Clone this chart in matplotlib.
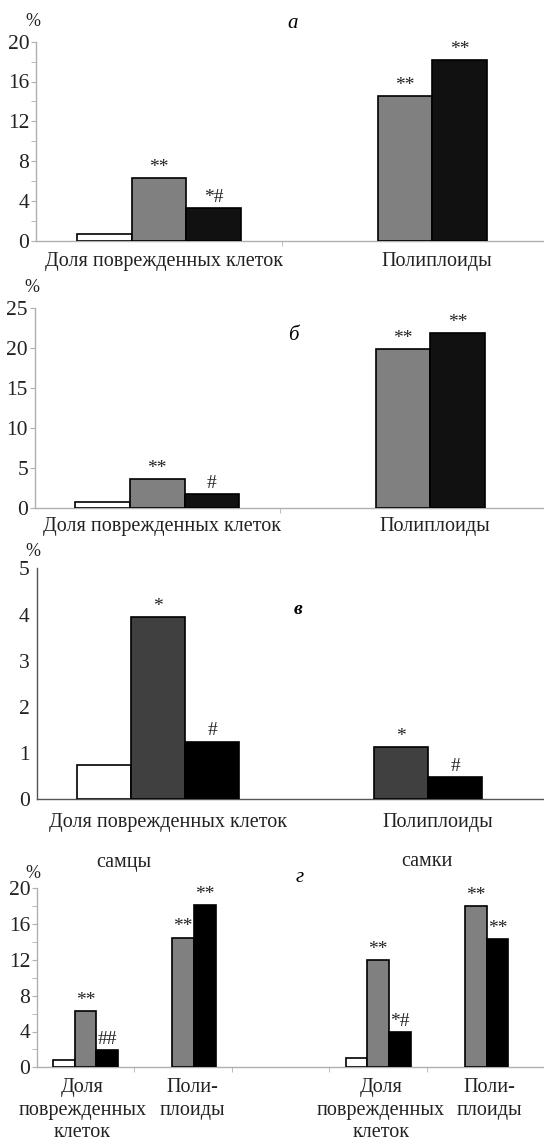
import matplotlib
matplotlib.use('Agg')
import matplotlib.pyplot as plt
from matplotlib.ticker import MultipleLocator

plt.rcParams['font.family'] = ['Liberation Serif', 'DejaVu Serif']

# panel a
a_cats = ['Доля поврежденных клеток', 'Полиплоиды']
a_white = [0.7, 0]
a_gray = [6.3, 14.5]
a_black = [3.3, 18.2]
a_gray_marks = ['**', '**']
a_black_marks = ['*#', '**']

# panel b
b_cats = ['Доля поврежденных клеток', 'Полиплоиды']
b_white = [0.8, 0]
b_gray = [3.7, 19.9]
b_black = [1.8, 21.9]
b_gray_marks = ['**', '**']
b_black_marks = ['#', '**']

# panel c
c_cats = ['Доля поврежденных клеток', 'Полиплоиды']
c_white = [0.75, 0]
c_gray = [3.94, 1.14]
c_black = [1.25, 0.49]
c_gray_marks = ['*', '*']
c_black_marks = ['#', '#']

# panel d (males | empty | females)
d_cats = ['Доля\nповрежденных\nклеток', 'Поли-\nплоиды', '',
          'Доля\nповрежденных\nклеток', 'Поли-\nплоиды']
d_white = [0.8, 0, 0, 1.0, 0]
d_gray = [6.3, 14.5, 0, 12.0, 18.0]
d_black = [1.9, 18.1, 0, 3.9, 14.3]
d_gray_marks = ['**', '**', '', '**', '**']
d_black_marks = ['##', '**', '', '*#', '**']

W, H = 544, 1145
fig = plt.figure(figsize=(W / 100, H / 100), dpi=100)


def px_axes(left, top, bottom, right=W):
    return fig.add_axes([left / W, 1 - bottom / H, (right - left) / W, (bottom - top) / H])


def draw_bars(ax, white, gray, black, gray_marks, black_marks, colors, w=1 / 4.5):
    for k, (vals, col) in enumerate(zip([white, gray, black], colors)):
        xs = [i + (k - 1) * w for i in range(len(vals)) if vals[i] > 0]
        hs = [v for v in vals if v > 0]
        ax.bar(xs, hs, w, color=col, edgecolor='black', linewidth=1.2, zorder=3)
    for k, marks, vals in ((1, gray_marks, gray), (2, black_marks, black)):
        for i, (m, v) in enumerate(zip(marks, vals)):
            if m:
                ax.annotate(m, (i + (k - 1) * w, v), xytext=(0, 1.5),
                            textcoords='offset points', ha='center', va='bottom',
                            fontsize=14, color='#222222')


def style(ax, spine_col, ymax, ystep, yminor, xlim, bounds, tick_len=3.5):
    for s in ('top', 'right'):
        ax.spines[s].set_visible(False)
    for s in ('left', 'bottom'):
        ax.spines[s].set_color(spine_col)
        ax.spines[s].set_linewidth(1.0)
    ax.set_xlim(*xlim)
    ax.set_ylim(0, ymax)
    ax.yaxis.set_major_locator(MultipleLocator(ystep))
    if yminor:
        ax.yaxis.set_minor_locator(MultipleLocator(yminor))
    ax.tick_params(axis='y', which='major', length=tick_len, color=spine_col,
                   labelsize=15.5, pad=1.2 if tick_len else 5, labelcolor='#222222')
    ax.tick_params(axis='y', which='minor', length=tick_len, color=spine_col)
    ax.set_xticks(bounds, minor=True)
    ax.tick_params(axis='x', which='minor', length=tick_len, color=spine_col)
    ax.set_xticks([])


def cat_labels(ax, xs, labels, dy, fs=14.5):
    for x, lab in zip(xs, labels):
        ax.annotate(lab, (x, 0), xytext=(0, -dy), textcoords='offset points',
                    ha='center', va='top', fontsize=fs, color='#222222',
                    linespacing=1.25, annotation_clip=False)


# a
ax = px_axes(36, 41.7, 240.7)
draw_bars(ax, a_white, a_gray, a_black, a_gray_marks, a_black_marks,
          ['white', '#808080', '#111111'])
style(ax, '#b0b0b0', 20, 4, 2, (-0.5, 1.565), [0.5])
cat_labels(ax, [0.02, 1.13], a_cats, 8)
fig.text(293 / W, 1 - 23 / H, 'а', style='italic', fontsize=15, ha='center', va='center')
fig.text(33 / W, 1 - 21 / H, '%', fontsize=13, ha='center', va='center', color='#222222')

# b
ax = px_axes(34.5, 308.3, 508.3)
draw_bars(ax, b_white, b_gray, b_black, b_gray_marks, b_black_marks,
          ['white', '#808080', '#111111'])
style(ax, '#b0b0b0', 25, 5, None, (-0.5, 1.575), [0.5])
cat_labels(ax, [0.02, 1.13], b_cats, 6)
fig.text(293 / W, 1 - 335 / H, 'б', style='italic', fontsize=15, ha='center', va='center')
fig.text(32 / W, 1 - 288 / H, '%', fontsize=13, ha='center', va='center', color='#222222')

# c
ax = px_axes(36.7, 568.3, 799.3)
draw_bars(ax, c_white, c_gray, c_black, c_gray_marks, c_black_marks,
          ['white', '#404040', '#000000'])
style(ax, '#555555', 5, 1, None, (-0.5, 1.588), [], tick_len=0)
cat_labels(ax, [0.04, 1.15], c_cats, 10)
fig.text(298 / W, 1 - 609 / H, 'в', style='italic', weight='bold', fontsize=14,
         ha='center', va='center')
fig.text(33 / W, 1 - 552 / H, '%', fontsize=13, ha='center', va='center', color='#222222')

# d
ax = px_axes(36.7, 888.3, 1067.3)
draw_bars(ax, d_white, d_gray, d_black, d_gray_marks, d_black_marks,
          ['white', '#808080', '#000000'])
style(ax, '#b0b0b0', 20, 4, 2, (-0.5, 4.70), [0.5, 1.5, 2.5, 3.5])
cat_labels(ax, [-0.03, 1.10, 2.0, 3.03, 4.14], d_cats, 8)
fig.text(300 / W, 1 - 878 / H, 'г', style='italic', fontsize=15, ha='center', va='center')
fig.text(33 / W, 1 - 873 / H, '%', fontsize=13, ha='center', va='center', color='#222222')
fig.text(124 / W, 1 - 862 / H, 'самцы', fontsize=14.5, ha='center', va='center', color='#222222')
fig.text(427 / W, 1 - 862 / H, 'самки', fontsize=14.5, ha='center', va='center', color='#222222')

fig.savefig('out.png', dpi=100)
